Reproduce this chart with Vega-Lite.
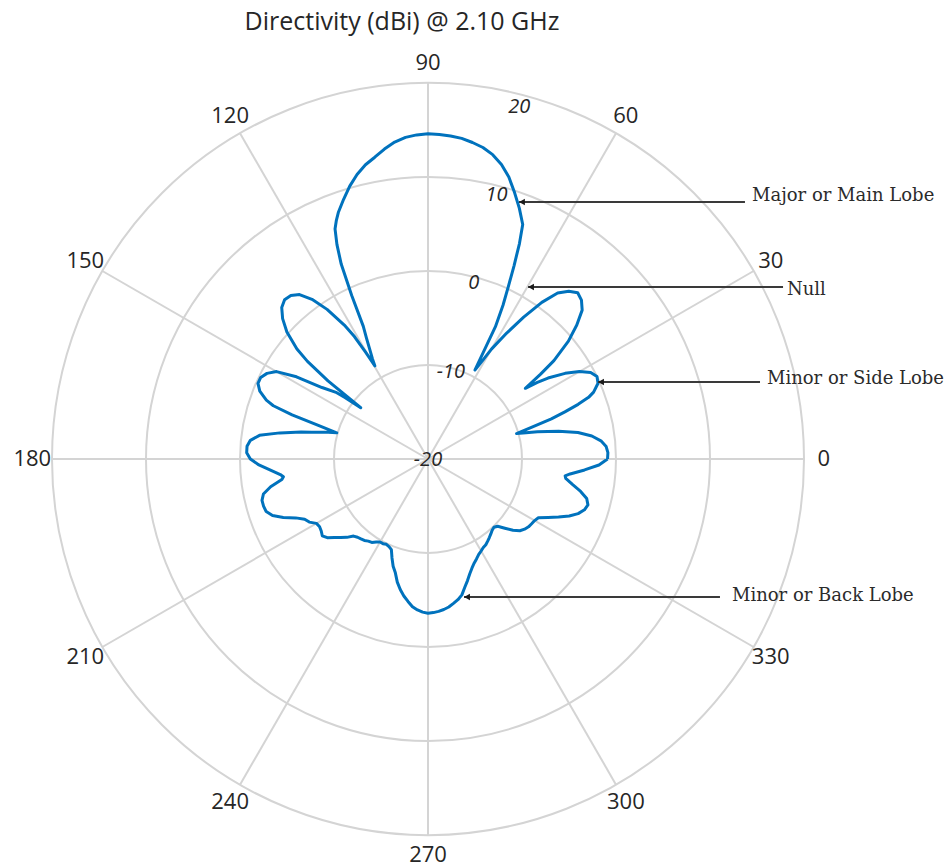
{
  "$schema": "https://vega.github.io/schema/vega-lite/v6.json",
  "width": 752,
  "height": 752,
  "autosize": {"type": "none"},
  "padding": {"left": 52, "top": 83, "right": 141, "bottom": 32},
  "background": "white",
  "config": {"view": {"stroke": null}},
  "title": {
    "text": "Directivity (dBi) @ 2.10 GHz",
    "frame": "group",
    "anchor": "middle",
    "dx": -26,
    "offset": 17,
    "font": "Open Sans",
    "fontSize": 25,
    "fontWeight": "normal",
    "color": "#262626"
  },
  "datasets": {
    "pattern": [
      {"a": 0, "d": -0.9}, {"a": 2, "d": -0.85}, {"a": 4, "d": -1.0}, {"a": 6, "d": -1.5}, {"a": 8, "d": -2.4},
      {"a": 10, "d": -3.8}, {"a": 12, "d": -5.8}, {"a": 14, "d": -8.0}, {"a": 15, "d": -9.2}, {"a": 16, "d": -10.2},
      {"a": 17, "d": -8.5}, {"a": 18, "d": -6.2}, {"a": 19, "d": -4.6}, {"a": 20, "d": -3.0}, {"a": 21, "d": -1.7},
      {"a": 22, "d": -1.0}, {"a": 24, "d": -0.2}, {"a": 26, "d": 0.0}, {"a": 28, "d": -0.4}, {"a": 30, "d": -1.4},
      {"a": 32, "d": -2.8}, {"a": 34, "d": -4.6}, {"a": 35, "d": -5.8}, {"a": 36, "d": -7.2}, {"a": 37, "d": -5.0},
      {"a": 38, "d": -3.0}, {"a": 40, "d": -0.5}, {"a": 42, "d": 1.3}, {"a": 44, "d": 2.8}, {"a": 46, "d": 3.5},
      {"a": 48, "d": 3.8}, {"a": 50, "d": 3.3}, {"a": 52, "d": 2.4}, {"a": 54, "d": 0.6}, {"a": 56, "d": -1.8},
      {"a": 58, "d": -4.2}, {"a": 60, "d": -6.5}, {"a": 61, "d": -8.0}, {"a": 62.2, "d": -9.3}, {"a": 63, "d": -4.2},
      {"a": 64, "d": -1.8}, {"a": 65, "d": 0.2}, {"a": 66, "d": 2.5}, {"a": 67, "d": 4.9}, {"a": 68, "d": 6.9},
      {"a": 70, "d": 8.4}, {"a": 72, "d": 9.8}, {"a": 74, "d": 11.2}, {"a": 76, "d": 12.3}, {"a": 78, "d": 13.1},
      {"a": 80, "d": 13.65}, {"a": 82, "d": 14.0}, {"a": 84, "d": 14.3}, {"a": 86, "d": 14.45}, {"a": 88, "d": 14.55},
      {"a": 90, "d": 14.6}, {"a": 92, "d": 14.5}, {"a": 94, "d": 14.3}, {"a": 96, "d": 13.9}, {"a": 98, "d": 13.3},
      {"a": 100, "d": 12.6}, {"a": 102, "d": 12.0}, {"a": 104, "d": 11.2}, {"a": 106, "d": 10.2}, {"a": 108, "d": 9.05},
      {"a": 110, "d": 7.9}, {"a": 111, "d": 7.2}, {"a": 112, "d": 6.4}, {"a": 113, "d": 4.8}, {"a": 114, "d": 2.7},
      {"a": 115, "d": -0.8}, {"a": 116, "d": -4.3}, {"a": 117, "d": -5.6}, {"a": 118, "d": -6.8}, {"a": 119, "d": -7.8},
      {"a": 119.7, "d": -8.6}, {"a": 120.3, "d": -6.8}, {"a": 121, "d": -4.8},
      {"a": 122, "d": -3.2}, {"a": 124, "d": -0.8}, {"a": 126, "d": 1.0},
      {"a": 128, "d": 2.2}, {"a": 130, "d": 2.7}, {"a": 132, "d": 2.8}, {"a": 134, "d": 2.4}, {"a": 136, "d": 1.5},
      {"a": 138, "d": 0.2}, {"a": 140, "d": -1.8}, {"a": 141, "d": -3.5}, {"a": 142, "d": -6.5}, {"a": 142.7, "d": -11.0},
      {"a": 143.5, "d": -9.0}, {"a": 144, "d": -8.0}, {"a": 146, "d": -6.4}, {"a": 148, "d": -3.5}, {"a": 150, "d": -1.4},
      {"a": 152, "d": -0.6}, {"a": 154, "d": -0.2}, {"a": 156, "d": -0.2}, {"a": 158, "d": -0.7}, {"a": 160, "d": -1.7},
      {"a": 161, "d": -2.6}, {"a": 162, "d": -4.8}, {"a": 163, "d": -7.8}, {"a": 164, "d": -9.9}, {"a": 165, "d": -9.0},
      {"a": 166, "d": -8.2}, {"a": 167, "d": -7.3}, {"a": 168, "d": -6.2}, {"a": 170, "d": -4.0}, {"a": 172, "d": -1.9},
      {"a": 174, "d": -1.0}, {"a": 176, "d": -0.7}, {"a": 178, "d": -0.7}, {"a": 180, "d": -1.1}, {"a": 182, "d": -2.0},
      {"a": 184, "d": -3.2}, {"a": 186, "d": -4.2}, {"a": 187, "d": -4.5}, {"a": 188, "d": -4.3}, {"a": 190, "d": -3.0},
      {"a": 192, "d": -2.1}, {"a": 194, "d": -1.8}, {"a": 196, "d": -1.8}, {"a": 198, "d": -1.9}, {"a": 200, "d": -2.4},
      {"a": 202, "d": -3.4}, {"a": 204, "d": -4.6}, {"a": 206, "d": -5.4}, {"a": 208, "d": -5.7}, {"a": 210, "d": -6.3},
      {"a": 212, "d": -6.4}, {"a": 214, "d": -6.3}, {"a": 216, "d": -6.1}, {"a": 218, "d": -6.4}, {"a": 220, "d": -7.0},
      {"a": 222, "d": -7.5}, {"a": 224, "d": -8.0}, {"a": 226, "d": -8.6}, {"a": 228, "d": -8.8}, {"a": 230, "d": -8.9},
      {"a": 232, "d": -9.0}, {"a": 234, "d": -9.2}, {"a": 236, "d": -9.3}, {"a": 238, "d": -9.6}, {"a": 240, "d": -9.8},
      {"a": 242, "d": -9.8}, {"a": 244, "d": -9.9}, {"a": 246, "d": -9.8}, {"a": 248, "d": -9.6}, {"a": 250, "d": -8.8},
      {"a": 252, "d": -8.0}, {"a": 254, "d": -7.4}, {"a": 256, "d": -6.5}, {"a": 258, "d": -5.8}, {"a": 260, "d": -5.2},
      {"a": 262, "d": -4.7}, {"a": 264, "d": -4.2}, {"a": 266, "d": -3.9}, {"a": 268, "d": -3.7}, {"a": 270, "d": -3.6},
      {"a": 272, "d": -3.65}, {"a": 274, "d": -3.75}, {"a": 276, "d": -3.9}, {"a": 278, "d": -4.1}, {"a": 280, "d": -4.4},
      {"a": 282, "d": -4.7}, {"a": 284, "d": -5.1}, {"a": 286, "d": -5.8}, {"a": 288, "d": -6.4}, {"a": 290, "d": -7.0},
      {"a": 292, "d": -7.5}, {"a": 294, "d": -7.9}, {"a": 296, "d": -8.2}, {"a": 298, "d": -8.5}, {"a": 300, "d": -8.7},
      {"a": 302, "d": -8.9}, {"a": 304, "d": -9.0}, {"a": 306, "d": -9.2}, {"a": 308, "d": -9.4}, {"a": 310, "d": -9.6},
      {"a": 312, "d": -9.8}, {"a": 314, "d": -9.9}, {"a": 316, "d": -9.7}, {"a": 318, "d": -9.0}, {"a": 320, "d": -8.2},
      {"a": 322, "d": -7.6}, {"a": 324, "d": -7.3}, {"a": 326, "d": -7.1}, {"a": 328, "d": -7.0}, {"a": 330, "d": -6.9},
      {"a": 332, "d": -6.7}, {"a": 334, "d": -5.8}, {"a": 336, "d": -4.8}, {"a": 338, "d": -3.8}, {"a": 340, "d": -3.0},
      {"a": 342, "d": -2.5}, {"a": 344, "d": -2.3}, {"a": 346, "d": -2.6}, {"a": 348, "d": -3.4}, {"a": 350, "d": -4.4},
      {"a": 352, "d": -5.2}, {"a": 353, "d": -5.3}, {"a": 354, "d": -4.8}, {"a": 356, "d": -3.3}, {"a": 358, "d": -1.8},
      {"a": 360, "d": -0.9}
    ],
    "rings": [{"level": -10}, {"level": 0}, {"level": 10}, {"level": 20}],
    "spokes": [
      {"angle": 0, "label": "0"}, {"angle": 30, "label": "30"}, {"angle": 60, "label": "60"}, {"angle": 90, "label": "90"},
      {"angle": 120, "label": "120"}, {"angle": 150, "label": "150"}, {"angle": 180, "label": "180"}, {"angle": 210, "label": "210"},
      {"angle": 240, "label": "240"}, {"angle": 270, "label": "270"}, {"angle": 300, "label": "300"}, {"angle": 330, "label": "330"}
    ],
    "rlabels": [
      {"level": -20, "label": "-20"}, {"level": -10, "label": "-10"}, {"level": 0, "label": "0"},
      {"level": 10, "label": "10"}, {"level": 20, "label": "20"}
    ],
    "notes": [
      {"label": "Major or Main Lobe", "tx": 9.68, "ty": 27.34, "ex": 33.72, "lx": 34.47, "ly": 27.98},
      {"label": "Null", "tx": 10.64, "ty": 18.3, "ex": 37.77, "lx": 38.19, "ly": 17.98},
      {"label": "Minor or Side Lobe", "tx": 18.09, "ty": 8.19, "ex": 35.32, "lx": 36.06, "ly": 8.51},
      {"label": "Minor or Back Lobe", "tx": 3.83, "ty": -14.68, "ex": 31.06, "lx": 32.34, "ly": -14.57}
    ]
  },
  "layer": [
    {
      "data": {"name": "rings"},
      "transform": [
        {"calculate": "datum.level + 20", "as": "r"},
        {"calculate": "0", "as": "o"}
      ],
      "mark": {"type": "point", "shape": "circle", "filled": false, "stroke": "#d4d4d4", "strokeWidth": 2, "opacity": 1},
      "encoding": {
        "x": {"field": "o", "type": "quantitative", "scale": {"domain": [-40, 40], "nice": false, "zero": false}, "axis": null},
        "y": {"field": "o", "type": "quantitative", "scale": {"domain": [-40, 40], "nice": false, "zero": false}, "axis": null},
        "size": {"field": "r", "type": "quantitative", "scale": {"type": "pow", "exponent": 2, "domain": [0, 40], "range": [0, 565504]}, "legend": null}
      }
    },
    {
      "data": {"name": "spokes"},
      "transform": [
        {"calculate": "40 * cos(datum.angle * PI / 180)", "as": "sx"},
        {"calculate": "40 * sin(datum.angle * PI / 180)", "as": "sy"},
        {"calculate": "0", "as": "o"}
      ],
      "mark": {"type": "rule", "stroke": "#d4d4d4", "strokeWidth": 2},
      "encoding": {
        "x": {"field": "o", "type": "quantitative"},
        "y": {"field": "o", "type": "quantitative"},
        "x2": {"field": "sx"},
        "y2": {"field": "sy"}
      }
    },
    {
      "data": {"name": "spokes"},
      "transform": [
        {"calculate": "42.1 * cos(datum.angle * PI / 180)", "as": "lx"},
        {"calculate": "42.1 * sin(datum.angle * PI / 180)", "as": "ly"}
      ],
      "mark": {"type": "text", "font": "Open Sans", "fontSize": 22, "color": "#262626", "align": "center", "baseline": "middle"},
      "encoding": {
        "x": {"field": "lx", "type": "quantitative"},
        "y": {"field": "ly", "type": "quantitative"},
        "text": {"field": "label", "type": "nominal"}
      }
    },
    {
      "data": {"name": "rlabels"},
      "transform": [
        {"calculate": "0.97 * (datum.level + 20) * cos(75.5 * PI / 180)", "as": "lx"},
        {"calculate": "0.97 * (datum.level + 20) * sin(75.5 * PI / 180)", "as": "ly"}
      ],
      "mark": {"type": "text", "font": "Open Sans", "fontSize": 20, "fontStyle": "italic", "color": "#262626", "align": "center", "baseline": "middle", "dy": 1},
      "encoding": {
        "x": {"field": "lx", "type": "quantitative"},
        "y": {"field": "ly", "type": "quantitative"},
        "text": {"field": "label", "type": "nominal"}
      }
    },
    {
      "data": {"name": "pattern"},
      "transform": [
        {"calculate": "(datum.d + 20) * cos(datum.a * PI / 180)", "as": "px"},
        {"calculate": "(datum.d + 20) * sin(datum.a * PI / 180)", "as": "py"}
      ],
      "mark": {"type": "line", "color": "#0072BD", "strokeWidth": 3, "strokeJoin": "round"},
      "encoding": {
        "x": {"field": "px", "type": "quantitative"},
        "y": {"field": "py", "type": "quantitative"},
        "order": {"field": "a", "type": "quantitative"}
      }
    },
    {
      "data": {"name": "notes"},
      "mark": {"type": "rule", "stroke": "#3a3a3a", "strokeWidth": 2},
      "encoding": {
        "x": {"field": "tx", "type": "quantitative"},
        "x2": {"field": "ex"},
        "y": {"field": "ty", "type": "quantitative"}
      }
    },
    {
      "data": {"name": "notes"},
      "mark": {"type": "point", "shape": "triangle-left", "filled": true, "color": "#1a1a1a", "size": 45, "opacity": 1, "xOffset": 3},
      "encoding": {
        "x": {"field": "tx", "type": "quantitative"},
        "y": {"field": "ty", "type": "quantitative"}
      }
    },
    {
      "data": {"name": "notes"},
      "mark": {"type": "text", "font": "DejaVu Serif", "fontSize": 18, "color": "#2b2b2b", "align": "left", "baseline": "middle"},
      "encoding": {
        "x": {"field": "lx", "type": "quantitative"},
        "y": {"field": "ly", "type": "quantitative"},
        "text": {"field": "label", "type": "nominal"}
      }
    }
  ]
}
